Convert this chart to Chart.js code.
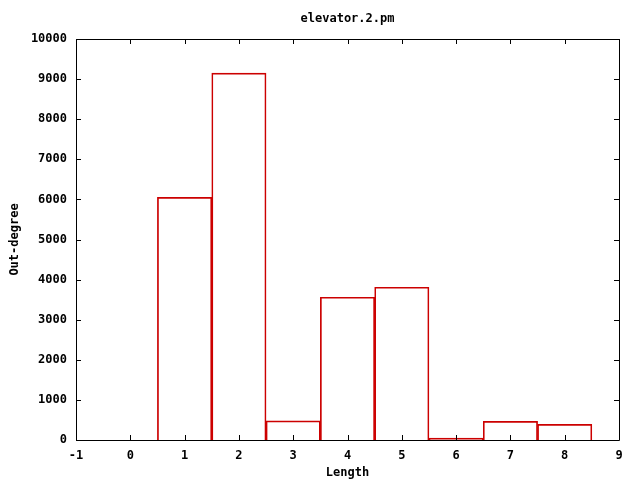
<!DOCTYPE html>
<html>
<head>
<meta charset="utf-8">
<script src="https://cdn.jsdelivr.net/npm/chart.js@4.4.0/dist/chart.umd.min.js"></script>
<style>
  html, body { margin: 0; padding: 0; background: #ffffff; }
  #wrap { width: 640px; height: 480px; }
</style>
</head>
<body>
<div id="wrap"><canvas id="chart"></canvas></div>
<script>
// Data
const lengths = [1, 2, 3, 4, 5, 6, 7, 8];
const outDegree = [6050, 9150, 475, 3560, 3810, 45, 465, 390];
const xTicks = [-1, 0, 1, 2, 3, 4, 5, 6, 7, 8, 9];
const yTicks = [0, 1000, 2000, 3000, 4000, 5000, 6000, 7000, 8000, 9000, 10000];

const FONT = "'DejaVu Sans Mono', 'Liberation Mono', monospace";
const FONT_SIZE = 12;
const BAR_RED = '#cc0000';

// Frame, inward tick marks and title (gnuplot look)
const framePlugin = {
    id: 'frame',
    afterDraw(chart) {
        const { ctx, chartArea: a, scales } = chart;
        const tick = 5;
        ctx.save();
        ctx.strokeStyle = '#000000';
        ctx.lineWidth = 1;
        ctx.beginPath();
        ctx.rect(Math.round(a.left) + 0.5, Math.round(a.top) + 0.5,
                 Math.round(a.right - a.left), Math.round(a.bottom - a.top));
        xTicks.forEach(v => {
            const x = Math.round(scales.x.getPixelForValue(v)) + 0.5;
            ctx.moveTo(x, a.bottom);
            ctx.lineTo(x, a.bottom - tick);
            ctx.moveTo(x, a.top);
            ctx.lineTo(x, a.top + tick);
        });
        yTicks.forEach(v => {
            const y = Math.round(scales.y.getPixelForValue(v)) + 0.5;
            ctx.moveTo(a.left, y);
            ctx.lineTo(a.left + tick, y);
            ctx.moveTo(a.right, y);
            ctx.lineTo(a.right - tick, y);
        });
        ctx.stroke();

        // Title centred over the plot area
        ctx.fillStyle = '#000000';
        ctx.font = 'bold ' + FONT_SIZE + 'px ' + FONT;
        ctx.textAlign = 'center';
        ctx.textBaseline = 'middle';
        ctx.fillText('elevator.2.pm', (a.left + a.right) / 2, 19);
        ctx.restore();
    }
};

const ctx = document.getElementById('chart');

new Chart(ctx, {
    type: 'bar',
    data: {
        datasets: [{
            label: 'elevator.2.pm',
            data: lengths.map((x, i) => ({ x: x, y: outDegree[i] })),
            backgroundColor: 'rgba(255,255,255,0)',
            borderColor: BAR_RED,
            borderWidth: 1,
            barPercentage: 1,
            categoryPercentage: 1
        }]
    },
    options: {
        responsive: true,
        maintainAspectRatio: false,
        animation: false,
        layout: { padding: { top: 39, right: 21, left: 0, bottom: 0 } },
        plugins: {
            legend: { display: false },
            title: { display: false },
            tooltip: { enabled: false }
        },
        scales: {
            x: {
                type: 'linear',
                offset: false,
                min: -1,
                max: 9,
                afterFit: (scale) => { scale.height = 40; },
                afterBuildTicks: (scale) => { scale.ticks = xTicks.map(v => ({ value: v })); },
                grid: { display: false, drawTicks: false, offset: false },
                border: { display: false },
                ticks: {
                    padding: 9,
                    color: '#000000',
                    font: { family: FONT, size: FONT_SIZE, weight: 'bold' },
                    maxRotation: 0
                },
                title: {
                    display: true,
                    text: 'Length',
                    color: '#000000',
                    font: { family: FONT, size: FONT_SIZE, weight: 'bold' },
                    padding: { top: 0, bottom: 0 }
                }
            },
            y: {
                min: 0,
                max: 10000,
                afterFit: (scale) => { scale.width = 76; },
                afterBuildTicks: (scale) => { scale.ticks = yTicks.map(v => ({ value: v })); },
                grid: { display: false, drawTicks: false },
                border: { display: false },
                ticks: {
                    padding: 9,
                    color: '#000000',
                    font: { family: FONT, size: FONT_SIZE, weight: 'bold' },
                    callback: (v) => String(v)
                },
                title: {
                    display: true,
                    text: 'Out-degree',
                    color: '#000000',
                    font: { family: FONT, size: FONT_SIZE, weight: 'bold' },
                    padding: { top: 8, bottom: 0 }
                }
            }
        }
    },
    plugins: [framePlugin]
});
</script>
</body>
</html>
